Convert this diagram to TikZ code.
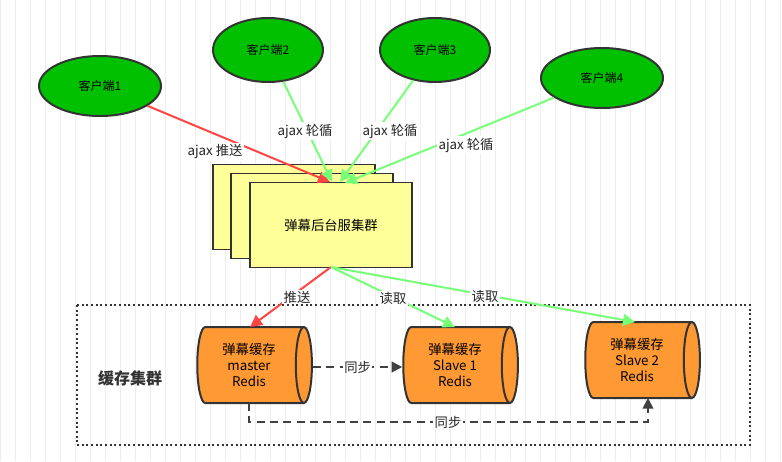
\documentclass[tikz,border=0pt]{standalone}
\usepackage{fontspec}
\setmainfont{Noto Sans CJK SC}
\usetikzlibrary{shapes.geometric,arrows.meta}
\definecolor{cg}{HTML}{00C000}
\definecolor{cy}{HTML}{FFFF99}
\definecolor{co}{HTML}{FF9933}
\definecolor{cr}{HTML}{FF4444}
\definecolor{cl}{HTML}{77FF77}
\begin{document}
\begin{tikzpicture}[x=0.75pt,y=-0.75pt,
 client/.style={ellipse,draw=black!80,line width=1.5pt,fill=cg,minimum width=91.5pt,minimum height=45pt,inner sep=0pt,font=\small},
 srv/.style={draw=black!80,line width=1pt,fill=cy,minimum width=121.5pt,minimum height=63.75pt},
 redis/.style={cylinder,shape aspect=0.35,draw=black!80,line width=1.5pt,cylinder uses custom fill,cylinder body fill=co,cylinder end fill=co,minimum width=57pt,minimum height=86pt,align=center,font=\normalsize,inner sep=1pt},
 ra/.style={draw=cr,line width=1.5pt,-{Triangle[length=9pt,width=9pt]}},
 ga/.style={draw=cl,line width=1.5pt,-{Triangle[length=9pt,width=9pt]}},
 da/.style={draw=black!75,line width=1.5pt,dash pattern=on 6pt off 4pt,-{Triangle[length=8pt,width=8pt]}},
 lbl/.style={fill=white,inner sep=1pt,font=\normalsize,text=black!85}]
\fill[white] (0,0) rectangle (782,461);
\useasboundingbox (0,0) rectangle (782,461);
\draw[black!7,step=15] (0,0) grid (782,461);
\node[client] (c1) at (100,86) {客户端1};
\node[client,minimum width=82.5pt,minimum height=48pt] (c2) at (268,50) {客户端2};
\node[client,minimum width=82.5pt,minimum height=48pt] (c3) at (435,50) {客户端3};
\node[client] (c4) at (602,78) {客户端4};
\node[srv] (s1) at (294,207) {};
\node[srv] (s2) at (312,216) {};
\node[srv] (s3) at (331,225) {弹幕后台服集群};
\coordinate (t1) at (330,182);
\coordinate (t2) at (332,182);
\coordinate (t3) at (340,182);
\coordinate (t4) at (345,183);
\draw[ra] (c1) -- (t1);
\draw[ga] (c2) -- (t2);
\draw[ga] (c3) -- (t3);
\draw[ga] (c4) -- (t4);
\node[lbl] at (215,152) {ajax 推送};
\node[lbl] at (305,131) {ajax 轮循};
\node[lbl] at (390,131) {ajax 轮循};
\node[lbl] at (466,145) {ajax 轮循};
\draw[black!80,line width=1.5pt,dash pattern=on 1.5pt off 2pt] (77,305) rectangle (750,445);
\node[font=\large\bfseries,text=black!80] (cl) at (130,378) {缓存集群};
\node[redis] (m) at (249,365) {弹幕缓存\\master\\Redis};
\node[redis] (r1) at (455,365) {弹幕缓存\\Slave 1\\Redis};
\node[redis] (r2) at (637,360) {弹幕缓存\\Slave 2\\Redis};
\coordinate (sb) at (331,267);
\draw[ra] (sb) -- (250,327);
\draw[ga] (sb) -- (455,327);
\draw[ga] (sb) -- (635,322);
\node[lbl] at (297,297) {推送};
\node[lbl] at (393,298) {读取};
\node[lbl] at (485,296) {读取};
\draw[da] (m.east |- 0,367) -- (r1.west |- 0,367) node[midway,lbl] {同步};
\draw[da] (249,403) -- (249,422) -- (648,422) -- (648,398);
\node[lbl] at (448,422) {同步};
\end{tikzpicture}
\end{document}
